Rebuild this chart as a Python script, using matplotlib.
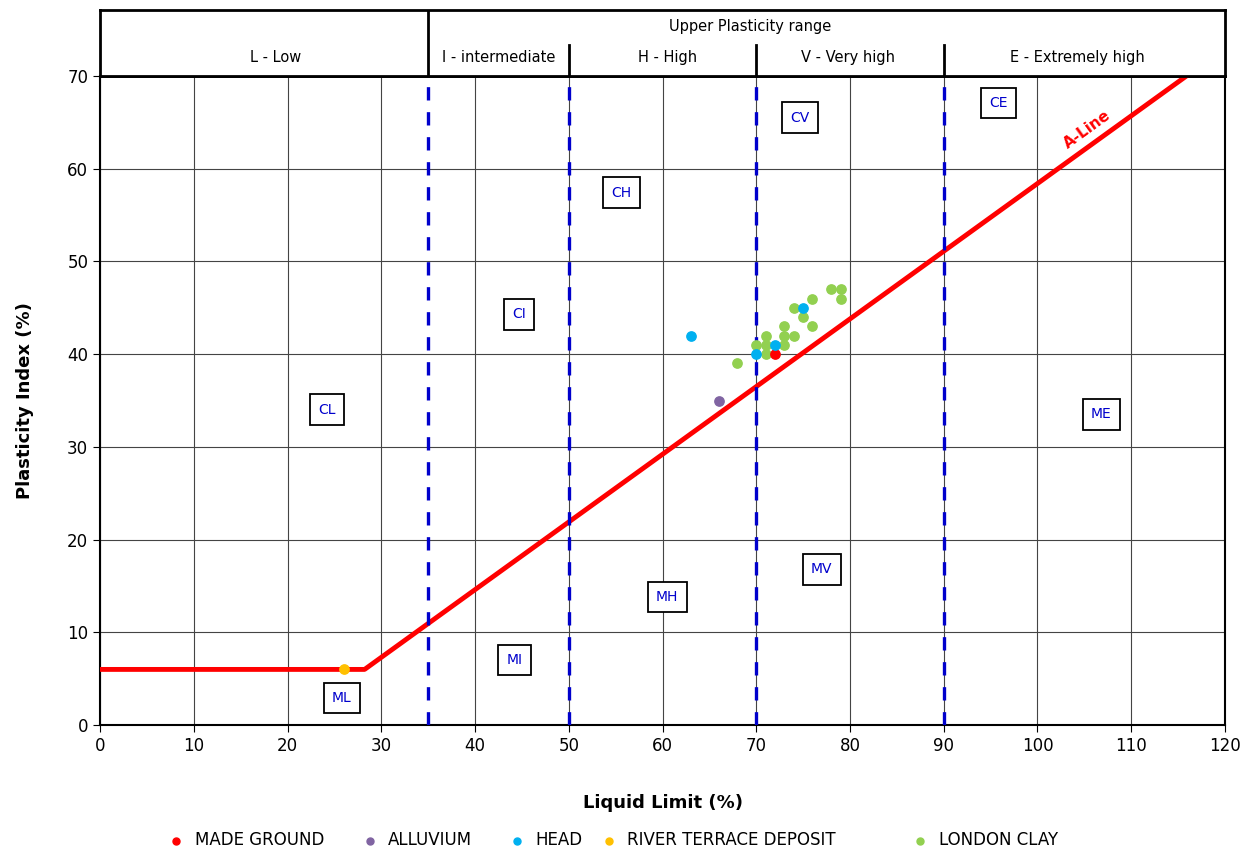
import matplotlib.pyplot as plt
import numpy as np

# test results (liquid limit %, plasticity index %)
made_ground_ll = [72]
made_ground_pi = [40]
alluvium_ll = [66]
alluvium_pi = [35]
head_ll = [63, 70, 72, 75]
head_pi = [42, 40, 41, 45]
rtd_ll = [26]
rtd_pi = [6]
london_ll = [68, 70, 71, 71, 71, 73, 73, 73, 74, 74, 75, 76, 76, 78, 79, 79]
london_pi = [39, 41, 40, 41, 42, 41, 42, 43, 42, 45, 44, 43, 46, 47, 47, 46]

# plasticity boundaries and zone labels
bounds = [35, 50, 70, 90]
ranges = [(18.7, "L - Low"), (42.5, "I - intermediate"), (60.5, "H - High"),
          (79.8, "V - Very high"), (104.3, "E - Extremely high")]
zones = ["CL", "ML", "MI", "CI", "MH", "CH", "MV", "CV", "CE", "ME"]
zone_x = [24.2, 25.8, 44.2, 44.7, 60.5, 55.6, 77.0, 74.7, 95.8, 106.8]
zone_y = [34.0, 2.9, 7.0, 44.3, 13.8, 57.4, 16.8, 65.5, 67.1, 33.5]

fig = plt.figure(figsize=(12.57, 8.51), dpi=100)
ax = fig.add_axes([0.0796, 0.148, 0.8949, 0.7627])
hd = fig.add_axes([0.0796, 0.9107, 0.8949, 0.0776])

ax.set_xlim(0, 120)
ax.set_ylim(0, 70)
ax.set_xticks(np.arange(0, 121, 10))
ax.set_yticks(np.arange(0, 71, 10))
ax.grid(True, color="#444444", linewidth=0.8)
ax.set_axisbelow(True)
ax.tick_params(labelsize=12, direction="out", length=5, top=True, labeltop=False)
for s in ax.spines.values():
    s.set_linewidth(1.5)
ax.spines["top"].set_linewidth(2)

# A-line
ll = np.array([0, 20 + 6 / 0.73, 120])
pi = np.maximum(0.73 * (ll - 20), 6)
ax.plot(ll, pi, color="red", linewidth=3.5, zorder=3)
ax.text(105.3, 64.2, "A-Line", color="red", fontsize=11, fontweight="bold",
        rotation=35.8, ha="center", va="center", zorder=4)

for b in bounds:
    ax.axvline(b, color="#0000cc", linewidth=2.4, linestyle=(0, (4, 3.5)), zorder=3)

for z, x, y in zip(zones, zone_x, zone_y):
    ax.text(x, y, z, color="#0000cc", fontsize=10, ha="center", va="center", zorder=5,
            bbox=dict(boxstyle="square,pad=0.6", facecolor="white", edgecolor="black", linewidth=1.3))

ms = 45
series = [
    (made_ground_ll, made_ground_pi, "red", "MADE GROUND", 0.139),
    (alluvium_ll, alluvium_pi, "#8064a2", "ALLUVIUM", 0.293),
    (head_ll, head_pi, "#00b0f0", "HEAD", 0.410),
    (rtd_ll, rtd_pi, "#ffc000", "RIVER TERRACE DEPOSIT", 0.483),
    (london_ll, london_pi, "#92d050", "LONDON CLAY", 0.731),
]
for x, y, c, name, lx in series:
    h = ax.scatter(x, y, s=ms, color=c, label=name, zorder=6 if c != "#92d050" else 5)
    fig.legend(handles=[h], loc="center left", bbox_to_anchor=(lx - 0.012, 0.013),
               frameon=False, fontsize=12, handletextpad=0.1, markerscale=0.75,
               borderpad=0, borderaxespad=0)

ax.set_xlabel("Liquid Limit (%)", fontsize=13, fontweight="bold", labelpad=28)
ax.set_ylabel("Plasticity Index (%)", fontsize=13, fontweight="bold", labelpad=24)

# header with plasticity ranges
hd.set_xlim(0, 120)
hd.set_ylim(0, 2)
hd.set_xticks([])
hd.set_yticks([])
for s in hd.spines.values():
    s.set_linewidth(2)
hd.plot([35, 35], [0, 2], color="black", linewidth=2)
for b in bounds[1:]:
    hd.plot([b, b], [0, 0.95], color="black", linewidth=2)
hd.text(69.3, 1.5, "Upper Plasticity range", fontsize=10.5, ha="center", va="center")
for x, name in ranges:
    hd.text(x, 0.55, name, fontsize=10.5, ha="center", va="center")

fig.savefig("out.png", dpi=100)
